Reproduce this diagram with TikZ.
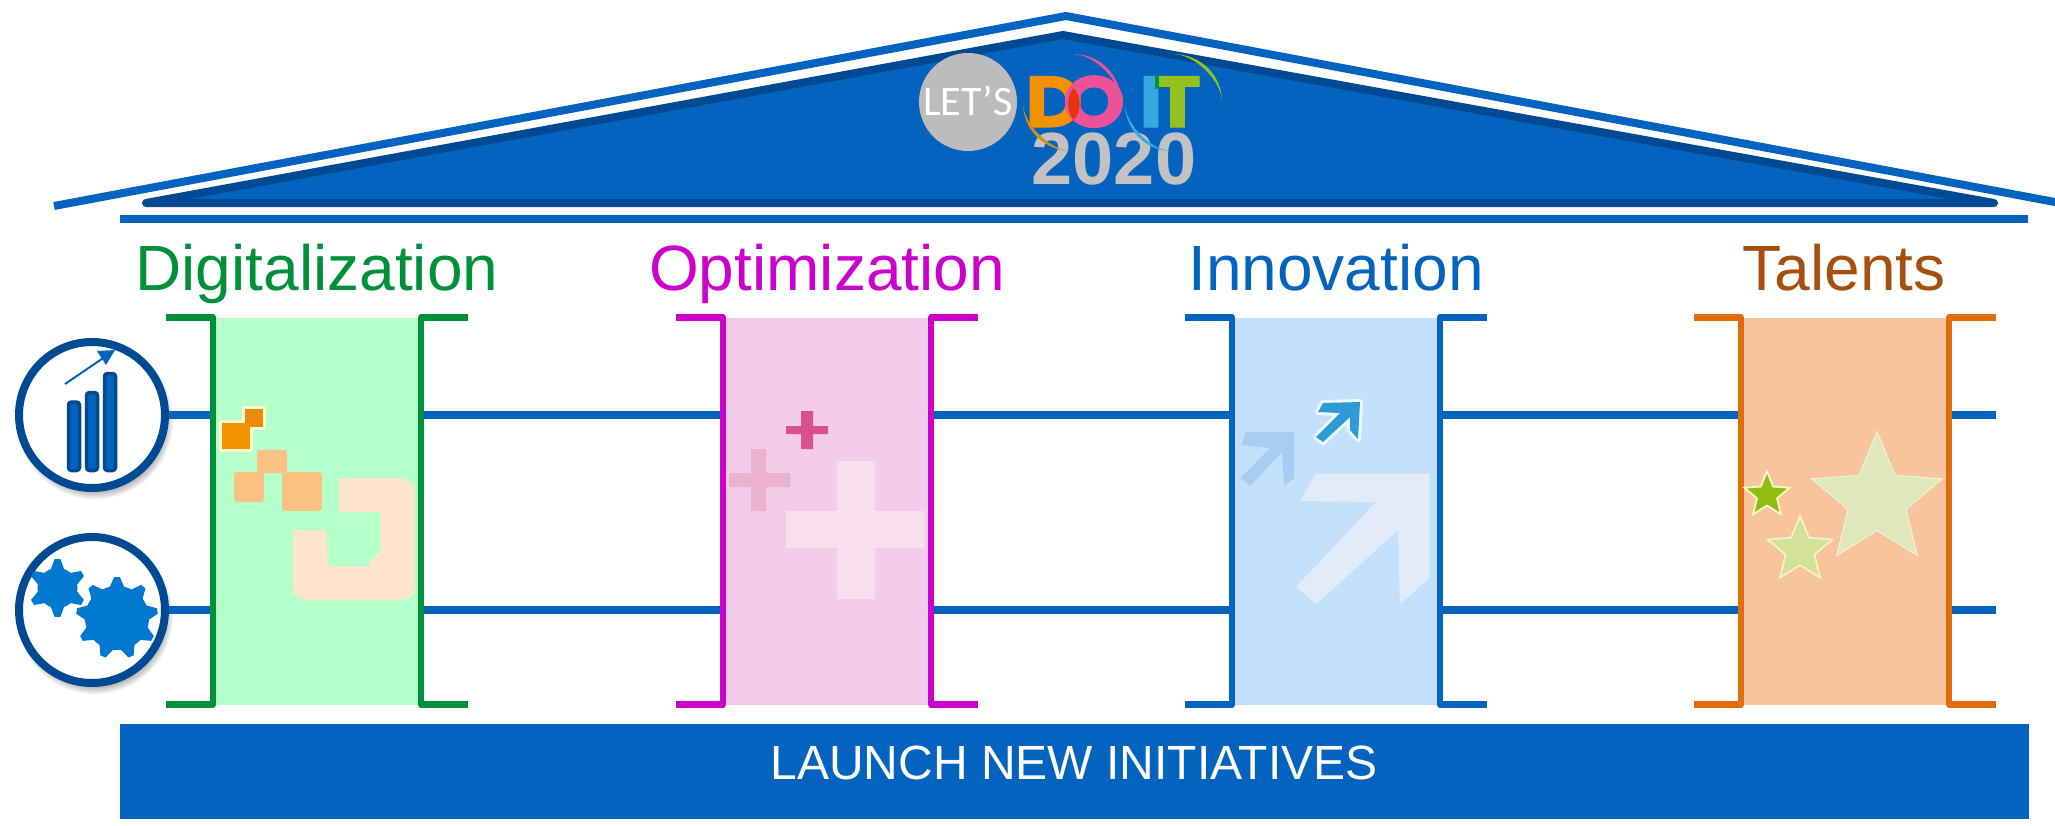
\documentclass[tikz,border=0pt]{standalone}
\usepackage{fontspec}
\setmainfont{Liberation Sans}
\newfontfamily\letsfont{Carlito}
\newfontfamily\doitfont[BoldFeatures={FakeBold=1.5,FakeStretch=1.1}]{Poppins}
\usetikzlibrary{shapes.geometric}
\definecolor{mainblue}{HTML}{0563C0}
\definecolor{darkblue}{HTML}{004A94}
\definecolor{gearblue}{HTML}{0078D0}
\definecolor{cgreen}{HTML}{00903A}
\definecolor{cmag}{HTML}{CC00CC}
\definecolor{corange}{HTML}{E36C0A}
\definecolor{tbrown}{HTML}{A5500F}
\definecolor{fgreen}{HTML}{B5FFCB}
\definecolor{fpink}{HTML}{F5CBEC}
\definecolor{fblue}{HTML}{C3E0FD}
\definecolor{forange}{HTML}{F7C49C}
\definecolor{lgray}{HTML}{BCBCBC}
\definecolor{ygray}{HTML}{C2C2C2}
\definecolor{lorange}{HTML}{F39200}
\definecolor{lpink}{HTML}{EB5297}
\definecolor{lred}{HTML}{E6330F}
\definecolor{lcyan}{HTML}{36A9E1}
\definecolor{lgreen}{HTML}{95C11F}
\definecolor{ldgreen}{HTML}{009640}
\definecolor{swo}{HTML}{D78C14}
\definecolor{halog}{HTML}{FFF8CD}
\definecolor{sqa}{HTML}{E88C0A}
\definecolor{sqb}{HTML}{FBC183}
\definecolor{sqc}{HTML}{FEE4CC}
\definecolor{plA}{HTML}{F9DEEC}
\definecolor{plB}{HTML}{EDB0CE}
\definecolor{plC}{HTML}{D9508F}
\definecolor{arA}{HTML}{E2ECF8}
\definecolor{arB}{HTML}{A8CDF0}
\definecolor{arC}{HTML}{2E9BD6}
\definecolor{arH}{HTML}{EBFAFC}
\definecolor{stA0}{HTML}{F0F3D7}
\definecolor{stA}{HTML}{DEE8BC}
\definecolor{stB0}{HTML}{F4FAD7}
\definecolor{stB}{HTML}{D3E296}
\definecolor{stC0}{HTML}{F3FACD}
\definecolor{stC}{HTML}{8FBE10}
\tikzset{
  x=1pt,y=-1pt,
  colbox/.style={rectangle,draw=none,inner sep=0pt,minimum width=208pt,minimum height=387pt,fill=#1},
  conn/.style={draw=mainblue,line width=8pt},
  brack/.style={draw=#1,line width=6.5pt,line join=round},
  coltitle/.style={anchor=base,font=\fontsize{64}{64}\selectfont,text=#1,inner sep=0pt},
  iconring/.style={circle,draw=darkblue,line width=8pt,fill=white,minimum size=146pt,inner sep=0pt},
  bar/.style={draw=darkblue,line width=3.5pt,fill=mainblue,rounded corners=3pt},
  starshape/.style={star,star points=5,star point ratio=2.25,inner sep=0pt,minimum size=#1,draw=none},
  logotext/.style={inner sep=0pt,anchor=base},
  doit/.style={logotext,font=\doitfont\bfseries\fontsize{72}{72}\selectfont,text=#1},
  halo/.style={draw=#1,fill=#1,line width=6pt,line join=round},
}
\newcommand{\ringshadow}[2]{%
  \foreach \k in {0,...,7}{
    \fill[black,opacity=0.055] (#1+3,#2+6) circle ({78-\k*1.4});
  }}
\newcommand{\gearshape}[6]{% cx cy rout rin teeth color
  \fill[#6] (#1,#2) circle (#4);
  \foreach \a in {1,...,#5}{
    \fill[#6] ({#1+(#4-1)*cos(\a*360/#5-90-130/#5)},{#2+(#4-1)*sin(\a*360/#5-90-130/#5)})
      -- ({#1+#3*cos(\a*360/#5-90-35/#5)},{#2+#3*sin(\a*360/#5-90-35/#5)})
      -- ({#1+#3*cos(\a*360/#5-90+35/#5)},{#2+#3*sin(\a*360/#5-90+35/#5)})
      -- ({#1+(#4-1)*cos(\a*360/#5-90+130/#5)},{#2+(#4-1)*sin(\a*360/#5-90+130/#5)}) -- cycle;
  }}
\newcommand{\swoosh}[7]{% start x,y; corner x,y; end x,y; colour: thin crescent
  \fill[#7] (#1,#2)
    .. controls ({#1+.56*(#3-#1)},{#2+.56*(#4-#2)}) and ({#5+.56*(#3-#5)},{#6+.56*(#4-#6)}) .. (#5,#6)
    .. controls ({#5+.44*(#3-#5)},{#6+.44*(#4-#6)}) and ({#1+.44*(#3-#1)},{#2+.44*(#4-#2)}) .. (#1,#2) -- cycle;}
\newcommand{\smallarrowpath}{(1323,403) -- (1360,402) -- (1358,439) -- (1350,430) -- (1350,417) -- (1323,442) -- (1316,437) -- (1340,413) -- (1318,412) -- cycle}
\begin{document}
\begin{tikzpicture}
\useasboundingbox (0,0) rectangle (2055,825);

% roof
\coordinate (roofL) at (54,206);
\coordinate (roofT) at (1066,16);
\coordinate (roofR) at (2060,203);
\draw[mainblue,line width=8pt,miter limit=10] (roofL) -- (roofT) -- (roofR);
\coordinate (inL) at (146,203);
\coordinate (inT) at (1063,35);
\coordinate (inR) at (1994,203);
\draw[darkblue,fill=mainblue,line width=8pt,line join=round] (inL) -- (inT) -- (inR) -- cycle;
\coordinate (ulL) at (120,219);
\coordinate (ulR) at (2028,219);
\draw[mainblue,line width=7.5pt] (ulL) -- (ulR);

% logo
\node[circle,fill=lgray,minimum size=98pt,inner sep=0pt] (lets) at (968,102) {};
\node[logotext,text=white,font=\letsfont\fontsize{42}{42}\selectfont] (letstxt) at (968,115) {LET’S};
\node[logotext,text=ygray,font=\bfseries\fontsize{74}{74}\selectfont] (year) at (1114,184) {2020};
\node[doit=lorange] (letD) at (1054,127) {D};
\node[doit=lpink] (letO) at (1094,127) {O};
\fill[lred] (1073.5,88) .. controls (1066.5,96) and (1066.5,112) .. (1073.5,120) .. controls (1081.5,112) and (1081.5,96) .. (1073.5,88) -- cycle;
\node[doit=lcyan] (letI) at (1151,127) {I};
\node[doit=lgreen] (letT) at (1177.5,127) {T};
\fill[ldgreen] (1155,76) rectangle (1159,89);
\swoosh{1073}{54}{1121}{54}{1121}{102}{lpink}
\swoosh{1173}{54}{1222}{54}{1222}{102}{lgreen}
\swoosh{1023}{103}{1023}{151}{1072}{151}{swo}
\swoosh{1125}{103}{1125}{151}{1172}{151}{lcyan}

% titles
\node[coltitle=cgreen] (t1) at (317,290) {Digitalization};
\node[coltitle=cmag] (t2) at (827,290) {Optimization};
\node[coltitle=mainblue] (t3) at (1336,290) {Innovation};
\node[coltitle=tbrown] (t4) at (1844,290) {Talents};

% columns
\node[colbox=fgreen] (col1) at (317,511) {};
\node[colbox=fpink] (col2) at (827,511) {};
\node[colbox=fblue] (col3) at (1336,511) {};
\node[colbox=forange] (col4) at (1845,511) {};

% icon rings
\ringshadow{92}{415}
\ringshadow{92}{610}
\node[iconring] (ringA) at (92,415) {};
\node[iconring] (ringB) at (92,610) {};

% free ends
\coordinate (endA) at (1996,415);
\coordinate (endB) at (1996,610);

% connectors
\foreach \r/\e in {ringA/endA,ringB/endB}{
  \draw[conn] (\r.east) -- (col1.west |- \r);
  \draw[conn] (col1.east |- \r) -- (col2.west |- \r);
  \draw[conn] (col2.east |- \r) -- (col3.west |- \r);
  \draw[conn] (col3.east |- \r) -- (col4.west |- \r);
  \draw[conn] (col4.east |- \r) -- (\e);
}

% brackets
\foreach \c/\k in {col1/cgreen,col2/cmag,col3/mainblue,col4/corange}{
  \draw[brack=\k] ([xshift=-47pt]\c.north west) -- (\c.north west) -- (\c.south west) -- ([xshift=-47pt]\c.south west);
  \draw[brack=\k] ([xshift=47pt]\c.north east) -- (\c.north east) -- (\c.south east) -- ([xshift=47pt]\c.south east);
}

% base bar
\node[fill=mainblue,minimum width=1909pt,minimum height=95pt,inner sep=0pt] (base) at (1074.5,771.5) {};
\node[text=white,inner sep=0pt,font=\fontsize{48}{48}\selectfont] (basetext) at (1074,763) {LAUNCH NEW INITIATIVES};

% icon A: bars and arrow
\draw[bar] (68.5,402) rectangle (79.5,470.5);
\draw[bar] (86.5,392.5) rectangle (97.5,470.5);
\draw[bar] (104.5,373.5) rectangle (115.5,470.5);
\coordinate (upA) at (65,384);
\coordinate (upB) at (104,357.5);
\draw[mainblue,line width=2pt] (upA) -- (upB);
\fill[mainblue] (115,350) -- (97,351) -- (106,365) -- cycle;

% icon B: gears
\gearshape{57.5}{588}{29}{20}{6}{gearblue}
\gearshape{117}{618}{41}{32}{9}{gearblue}

% green column pictograms
\path[halo=halog] (222,423) rectangle (250,449);
\path[halo=halog] (245,409) rectangle (263,427);
\fill[sqa] (245,409) rectangle (263,427);
\fill[lorange] (222,423) rectangle (250,449);
\fill[sqb,rounded corners=3pt] (257,450) rectangle (287,473) (234,472) rectangle (264,502) (282,472) rectangle (322,511);
\fill[sqc] (339,478) -- (400,478) .. controls (410,478) and (415,485) .. (415,495) -- (415,585) .. controls (415,595) and (410,600) .. (400,600) -- (308,600) .. controls (298,600) and (293,595) .. (293,585) -- (293,530) -- (326,530) -- (328,566) -- (368,566) -- (380,550) -- (380,512) -- (339,512) -- cycle;

% pink column pictograms
\fill[plA] (786,511) rectangle (924,548) (837,461) rectangle (875,599);
\fill[plB] (729,473) rectangle (790,487) (751,449) rectangle (766,511);
\fill[plC] (786,426) rectangle (828,434) (801,411) rectangle (813,449);

% blue column pictograms
\fill[arA] (1316,474) -- (1429.5,474) -- (1429.5,578) -- (1400,604) -- (1398,530) -- (1316.6,604) -- (1296,587) -- (1376,502) -- (1300,501) -- cycle;
\fill[arB] (1246,432) -- (1294,432) -- (1294,478) -- (1284,486) -- (1282,452) -- (1250,486) -- (1240.5,478) -- (1270,448) -- (1241,445) -- cycle;
\path[halo=arH] \smallarrowpath;
\fill[arC] \smallarrowpath;

% stars
\node[starshape=140pt,fill=stA0] (starA0) at (1877,500) {};
\node[starshape=134pt,fill=stA] (starA) at (1877,500) {};
\node[starshape=72pt,fill=stB0] (starB0) at (1800,550) {};
\node[starshape=64pt,fill=stB] (starB) at (1800,550) {};
\node[starshape=52pt,fill=stC0] (starC0) at (1767,495) {};
\node[starshape=42pt,fill=stC] (starC) at (1767,495) {};
\end{tikzpicture}
\end{document}
